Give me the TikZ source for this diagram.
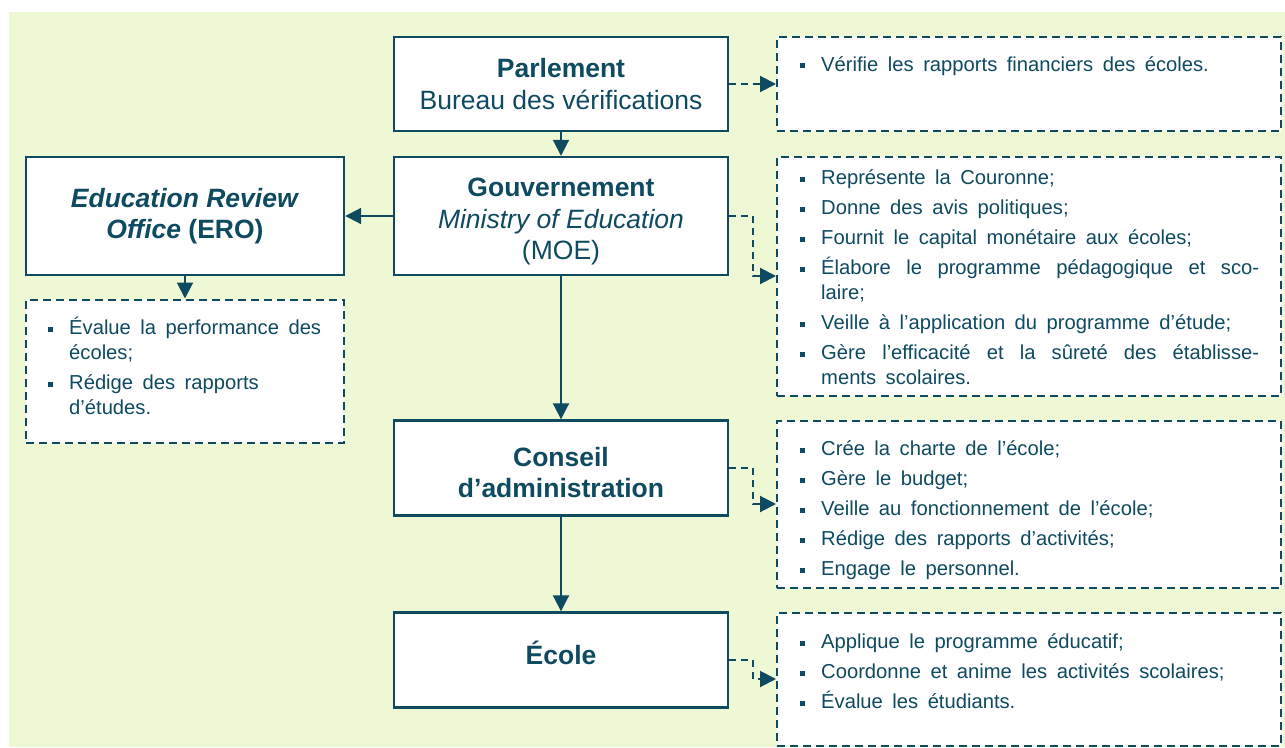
\documentclass[tikz,border=0pt]{standalone}
\usepackage{fontspec}
\setmainfont{Liberation Sans}
\usetikzlibrary{calc, arrows.meta}
\definecolor{encre}{HTML}{0E4A60}
\definecolor{fond}{HTML}{EEF8D5}

\newcommand{\tache}[1]{\noindent\hangindent=21pt\hangafter=1\rule{0pt}{20pt}\makebox[21pt][l]{\rule[3pt]{5pt}{5pt}}#1\par}
\newcommand{\taches}[1]{\fontsize{20.2}{25}\selectfont\spaceskip=9.5pt plus 6pt minus 1pt\relax\setlength{\parskip}{5pt}#1}

\tikzset{
    boite/.style = {draw = encre, line width = 2.4pt, fill = white, text = encre, align = center, minimum width = 334pt, font = \fontsize{26.5}{31.5}\selectfont},
    cadre/.style = {draw = encre, line width = 2pt, dash pattern = on 8pt off 5pt, fill = white, minimum width = 504pt},
    liste/.style = {anchor = north west, inner sep = 0pt, text = encre, text width = 459pt, align = justify},
    lien/.style = {draw = encre, line width = 2pt, -{Triangle[length = 16pt, width = 16pt]}},
    lien pointille/.style = {lien, dash pattern = on 7pt off 5pt}
}

\begin{document}
\begin{tikzpicture}[x = 1pt, y = -1pt]
            \useasboundingbox (0, 0) rectangle (1285, 747);
            \fill[fond] (9, 12) rectangle (1285, 747);
            
            % organismes
            \node[boite, minimum height = 94pt] (parlement) at (561, 84) {\textbf{Parlement}\\Bureau des vérifications};
            \node[boite, minimum height = 118pt] (gouvernement) at (561, 216) {\rule{0pt}{30pt}\textbf{Gouvernement}\\\textit{Ministry of Education}\\(MOE)};
            \node[boite, minimum width = 318pt, minimum height = 118pt] (ero) at (185, 216) {\textbf{\textit{Education Review}}\\\textbf{\textit{Office} (ERO)}};
            \node[boite, minimum height = 95pt] (conseil) at (561, 468) {\rule{0pt}{28pt}\textbf{Conseil}\\\textbf{d’administration}};
            \node[boite, minimum height = 95pt] (ecole) at (561, 660) {\rule[-14pt]{0pt}{14pt}\textbf{École}};
            
            % cadres des tâches
            \node[cadre, minimum height = 94pt] (taches_parlement) at (1029, 84) {};
            \node[cadre, minimum height = 239pt] (taches_gouvernement) at (1029, 276) {};
            \node[cadre, minimum height = 167pt] (taches_conseil) at (1029, 504) {};
            \node[cadre, minimum height = 133pt] (taches_ecole) at (1029, 679) {};
            \node[cadre, minimum width = 318pt, minimum height = 143pt] (taches_ero) at (185, 371) {};
            
            \node[liste] (texte_parlement) at ($(taches_parlement.north west) + (24, 15)$) {\taches{%
                \tache{Vérifie les rapports financiers des écoles.}}};
            \node[liste] (texte_gouvernement) at ($(taches_gouvernement.north west) + (24, 9)$) {\taches{%
                \tache{Représente la Couronne;}
                \tache{Donne des avis politiques;}
                \tache{Fournit le capital monétaire aux écoles;}
                \tache{Élabore le programme pédagogique et sco-\linebreak laire;}
                \tache{Veille à l’application du programme d’étude;}
                \tache{Gère l’efficacité et la sûreté des établisse-\linebreak ments scolaires.}}};
            \node[liste] (texte_conseil) at ($(taches_conseil.north west) + (24, 16)$) {\taches{%
                \tache{Crée la charte de l’école;}
                \tache{Gère le budget;}
                \tache{Veille au fonctionnement de l’école;}
                \tache{Rédige des rapports d’activités;}
                \tache{Engage le personnel.}}};
            \node[liste] (texte_ecole) at ($(taches_ecole.north west) + (24, 17)$) {\taches{%
                \tache{Applique le programme éducatif;}
                \tache{Coordonne et anime les activités scolaires;}
                \tache{Évalue les étudiants.}}};
            \node[liste, text width = 300pt] (texte_ero) at ($(taches_ero.north west) + (23, 16)$) {\taches{%
                \tache{Évalue la performance des\newline écoles;}
                \tache{Rédige des rapports\newline d’études.}}};
            
            % liens
            \draw[lien] (parlement) -- (gouvernement);
            \draw[lien] (gouvernement) -- (conseil);
            \draw[lien] (conseil) -- (ecole);
            \draw[lien] (gouvernement) -- (ero);
            \draw[lien pointille] (ero) -- (taches_ero);
            \draw[lien pointille] (parlement) -- (taches_parlement);
            \draw[lien pointille] (gouvernement.east) -- ++(24, 0) |- (taches_gouvernement.west);
            \draw[lien pointille] (conseil.east) -- ++(24, 0) |- (taches_conseil.west);
            \draw[lien pointille] (ecole.east) -- ++(24, 0) |- (taches_ecole.west);
        \end{tikzpicture}
\end{document}
